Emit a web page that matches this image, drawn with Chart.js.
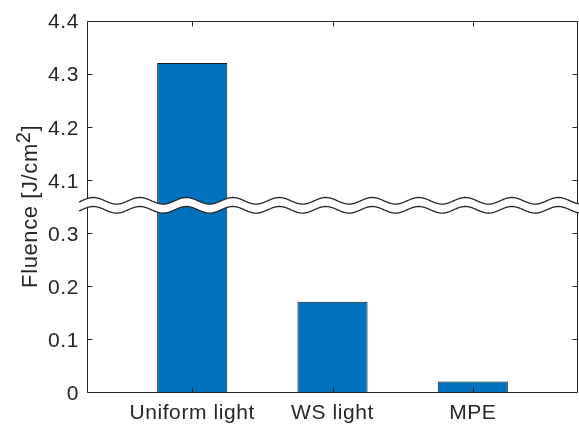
<!DOCTYPE html>
<html>
<head>
<meta charset="utf-8">
<title>Fluence</title>
<script src="https://cdn.jsdelivr.net/npm/chart.js@4.4.1/dist/chart.umd.min.js"></script>
<style>
    html, body { margin: 0; padding: 0; background: #fff; }
    canvas { display: block; }
</style>
</head>
<body>
<canvas id="cnv_fluence" width="579" height="425"></canvas>
<script>
const categories = ['Uniform light', 'WS light', 'MPE']
const fluence = [4.32, 0.17, 0.02]
const yTickValues = [0, 0.1, 0.2, 0.3, 4.1, 4.2, 4.3, 4.4]
const yTickLabels = ['0', '0.1', '0.2', '0.3', '4.1', '4.2', '4.3', '4.4']

// broken y axis: values above the gap are pulled down by breakShift
const breakShift = 3.7
const breakAt = 0.35
const toAxis = v => v > 1 ? +(v - breakShift).toFixed(4) : v

const axisColor = '#262626'
const fontFamily = '"Liberation Sans", Arial, Helvetica, sans-serif'

const brokenAxis = {
    id: 'brokenAxis',
    beforeDraw(chart) {
        chart.ctx.letterSpacing = '0.6px'
    },
    afterDatasetsDraw(chart) {
        const { ctx, chartArea: a, scales: { x, y } } = chart
        ctx.save()
        ctx.strokeStyle = axisColor
        ctx.lineWidth = 1
        const L = Math.round(a.left) + 0.5
        const R = Math.round(a.right) - 0.5
        const T = Math.round(a.top) + 0.5
        const B = Math.round(a.bottom) + 0.5
        ctx.beginPath()
        ctx.rect(L, T, R - L, B - T)
        // ticks point inside the box
        y.ticks.forEach(t => {
            const py = Math.round(y.getPixelForValue(t.value)) + 0.5
            ctx.moveTo(L, py); ctx.lineTo(L + 5, py)
            ctx.moveTo(R, py); ctx.lineTo(R - 5, py)
        })
        x.ticks.forEach(t => {
            const px = Math.round(x.getPixelForValue(t.value)) + 0.5
            ctx.moveTo(px, B); ctx.lineTo(px, B - 5)
            ctx.moveTo(px, T); ctx.lineTo(px, T + 5)
        })
        ctx.stroke()

        // the two wavy lines of the break
        const mid = y.getPixelForValue(breakAt) - 1
        const gap = 4.5, amp = 3.3, period = 46.5, phase = a.left - 5.3
        const x0 = a.left - 8, x1 = chart.width
        const wave = (px, c) => c - amp * Math.sin(2 * Math.PI * (px - phase) / period)
        ctx.beginPath()
        for (let px = x0; px <= x1; px += 0.5) ctx.lineTo(px, wave(px, mid - gap))
        for (let px = x1; px >= x0; px -= 0.5) ctx.lineTo(px, wave(px, mid + gap))
        ctx.closePath()
        ctx.fillStyle = '#fff'
        ctx.fill()
        ctx.lineWidth = 1.3
        ;[mid - gap, mid + gap].forEach(c => {
            ctx.beginPath()
            for (let px = x0; px <= x1; px += 0.5) ctx.lineTo(px, wave(px, c))
            ctx.stroke()
        })

        // y title with a real superscript
        ctx.fillStyle = axisColor
        ctx.textBaseline = 'alphabetic'
        ctx.textAlign = 'left'
        const main = 'Fluence [J/cm', sup = '2', tail = ']'
        ctx.font = '22px ' + fontFamily
        const wMain = ctx.measureText(main).width
        const wTail = ctx.measureText(tail).width
        ctx.font = '20px ' + fontFamily
        const wSup = ctx.measureText(sup).width
        const total = wMain + wSup + wTail
        ctx.translate(37, (a.top + a.bottom) / 2)
        ctx.rotate(-Math.PI / 2)
        let cx = -total / 2
        ctx.font = '22px ' + fontFamily
        ctx.fillText(main, cx, 0)
        cx += wMain
        ctx.font = '20px ' + fontFamily
        ctx.fillText(sup, cx, -7)
        cx += wSup
        ctx.font = '22px ' + fontFamily
        ctx.fillText(tail, cx, 0)
        ctx.restore()
    }
}

const ctx = document.getElementById('cnv_fluence').getContext('2d')
const fluenceChart = new Chart(ctx, {
    type: 'bar',
    plugins: [brokenAxis],
    data: {
        datasets: [{
            label: 'Fluence',
            data: fluence.map((v, i) => ({ x: i + 1, y: toAxis(v) })),
            backgroundColor: '#0072BD',
            borderColor: '#1a1a1a',
            borderWidth: 1,
            borderSkipped: 'start',
            categoryPercentage: 1,
            barPercentage: 0.5
        }]
    },
    options: {
        responsive: false,
        animation: false,
        layout: { padding: { top: 20, right: 1, bottom: 0, left: 0 } },
        plugins: {
            legend: { display: false },
            tooltip: { enabled: false }
        },
        scales: {
            x: {
                type: 'linear',
                offset: false,
                min: 0.25,
                max: 3.75,
                afterBuildTicks: s => { s.ticks = categories.map((_, i) => ({ value: i + 1 })) },
                afterFit: s => { s.height = 33 },
                grid: { display: false, drawTicks: false, offset: false },
                border: { display: false },
                ticks: {
                    padding: 9,
                    color: axisColor,
                    maxRotation: 0,
                    autoSkip: false,
                    font: { family: fontFamily, size: 21 },
                    callback: (v, i) => categories[i]
                }
            },
            y: {
                min: 0,
                max: toAxis(yTickValues[yTickValues.length - 1]),
                afterBuildTicks: s => { s.ticks = yTickValues.map(v => ({ value: toAxis(v) })) },
                afterFit: s => { s.width = 87 },
                grid: { display: false, drawTicks: false },
                border: { display: false },
                ticks: {
                    padding: 8,
                    labelOffset: 2,
                    color: axisColor,
                    font: { family: fontFamily, size: 21 },
                    callback: (v, i) => yTickLabels[i]
                }
            }
        }
    }
})
</script>
</body>
</html>
